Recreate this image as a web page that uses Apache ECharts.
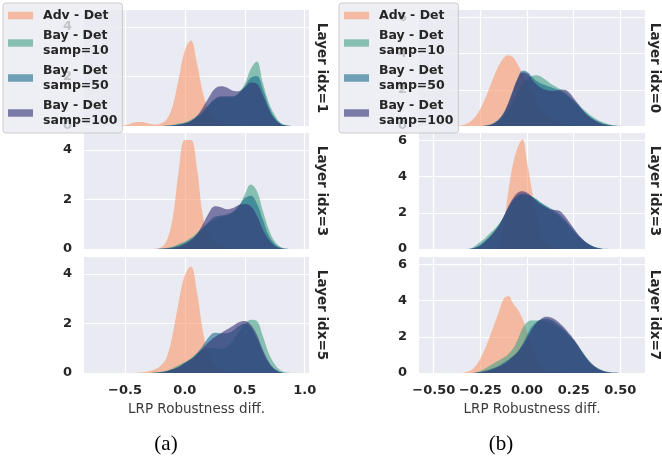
<!DOCTYPE html>
<html>
<head>
<meta charset="utf-8">
<script src="https://cdn.jsdelivr.net/npm/echarts@6/dist/echarts.min.js"></script>
<style>
html,body{margin:0;padding:0;background:#fff;}
#chart{width:662px;height:459px;}
</style>
</head>
<body>
<div id="chart"></div>
<script>
// ---------- DATA ----------
const seriesNames = ['Adv - Det', 'Bay - Det\nsamp=10', 'Bay - Det\nsamp=50', 'Bay - Det\nsamp=100'];
const layerLabelsA = ['Layer idx=1', 'Layer idx=3', 'Layer idx=5'];
const layerLabelsB = ['Layer idx=0', 'Layer idx=3', 'Layer idx=7'];
const captions = ['(a)', '(b)'];
const xAxisTitle = 'LRP Robustness diff.';
const xTicksA = [-0.5, 0, 0.5, 1.0];
const xTicksB = [-0.5, -0.25, 0, 0.25, 0.5];
const yTicksA = [0, 2, 4];
const yTicksB = [0, 2, 4, 6];

// KDE evaluation grid, panel (a)
const xA = [-0.55,-0.5,-0.45,-0.4,-0.35,-0.3,-0.25,-0.2,-0.15,-0.1,-0.05,0,0.05,0.1,0.15,0.2,0.25,0.3,0.35,0.4,0.45,0.5,0.55,0.6,0.65,0.7,0.75,0.8,0.85,0.9];
// KDE evaluation grid, panel (b)
const xB = [-0.45,-0.425,-0.4,-0.375,-0.35,-0.325,-0.3,-0.275,-0.25,-0.225,-0.2,-0.175,-0.15,-0.125,-0.1,-0.075,-0.05,-0.025,0,0.025,0.05,0.075,0.1,0.125,0.15,0.175,0.2,0.225,0.25,0.275,0.3,0.325,0.35,0.375,0.4,0.425,0.45,0.475,0.5,0.525,0.55,0.575,0.6];

// (a) Layer idx=1
const a1_adv  = [0,0.03,0.1,0.16,0.15,0.09,0.06,0.1,0.28,0.85,1.95,3.05,3.45,2.55,1.35,0.6,0.3,0.15,0.07,0.03,0,0,0,0,0,0,0,0,0,0];
const a1_s10  = [0,0,0,0,0,0,0,0,0.02,0.05,0.1,0.15,0.25,0.4,0.6,0.85,1.05,1.15,1.15,1.15,1.35,1.7,2.3,2.6,1.75,0.95,0.45,0.12,0.03,0];
const a1_s50  = [0,0,0,0,0,0,0,0,0.01,0.03,0.07,0.12,0.2,0.35,0.55,0.85,1.1,1.2,1.2,1.2,1.3,1.6,1.95,2.02,1.5,0.8,0.33,0.1,0.02,0];
const a1_s100 = [0,0,0,0,0,0,0,0,0.01,0.02,0.05,0.1,0.2,0.4,0.75,1.15,1.5,1.6,1.55,1.42,1.4,1.55,1.75,1.7,1.25,0.7,0.28,0.07,0.01,0];
// (a) Layer idx=3
const a2_adv  = [0,0,0,0,0,0,0.01,0.06,0.35,1.3,3.2,4.4,4.4,3.3,1.35,0.55,0.3,0.15,0.05,0.01,0,0,0,0,0,0,0,0,0,0];
const a2_s10  = [0,0,0,0,0,0,0,0.02,0.05,0.1,0.2,0.3,0.45,0.65,0.85,1.05,1.2,1.3,1.35,1.45,1.7,2.2,2.6,2.35,1.55,0.8,0.3,0.08,0.01,0];
const a2_s50  = [0,0,0,0,0,0,0,0.01,0.03,0.07,0.15,0.25,0.4,0.6,0.85,1.1,1.3,1.35,1.4,1.5,1.75,2.05,2.15,1.85,1.2,0.55,0.2,0.05,0.01,0];
const a2_s100 = [0,0,0,0,0,0,0,0.01,0.02,0.05,0.1,0.2,0.35,0.6,1.0,1.45,1.72,1.68,1.6,1.65,1.78,1.82,1.72,1.35,0.8,0.38,0.13,0.03,0,0];
// (a) Layer idx=5
const a3_adv  = [0,0,0,0.01,0.03,0.07,0.15,0.3,0.65,1.6,2.9,3.95,4.3,3.3,1.7,0.7,0.35,0.15,0.05,0.01,0,0,0,0,0,0,0,0,0,0];
const a3_s10  = [0,0,0,0,0,0,0.02,0.05,0.1,0.2,0.32,0.45,0.6,0.8,0.95,1.0,1.0,0.98,1.05,1.3,1.65,1.95,2.15,2.1,1.5,0.8,0.35,0.1,0.02,0];
const a3_s50  = [0,0,0,0,0,0,0.01,0.03,0.07,0.15,0.25,0.4,0.55,0.8,1.1,1.45,1.62,1.6,1.6,1.7,1.9,2.0,1.85,1.4,0.85,0.4,0.15,0.03,0,0];
const a3_s100 = [0,0,0,0,0,0,0.01,0.03,0.07,0.15,0.25,0.4,0.55,0.75,1.0,1.25,1.45,1.6,1.75,1.9,2.05,2.1,1.95,1.55,0.95,0.45,0.15,0.03,0,0];

// (b) Layer idx=0
const b1_adv  = [0,0,0,0.01,0.04,0.12,0.28,0.55,0.95,1.5,2.15,2.8,3.35,3.75,3.9,3.78,3.4,2.9,2.4,1.9,1.4,1.0,0.7,0.45,0.3,0.18,0.1,0.05,0.03,0.01,0,0,0,0,0,0,0,0,0,0,0,0,0];
const b1_s10  = [0,0,0,0,0,0,0,0,0,0.02,0.06,0.15,0.3,0.55,0.9,1.35,1.85,2.3,2.6,2.75,2.8,2.72,2.55,2.35,2.2,2.05,1.9,1.7,1.45,1.2,0.95,0.72,0.52,0.36,0.24,0.14,0.07,0.03,0.01,0,0,0,0];
const b1_s50  = [0,0,0,0,0,0,0,0,0,0.02,0.08,0.2,0.4,0.75,1.3,2.0,2.65,3.05,3.0,2.75,2.5,2.35,2.25,2.15,2.05,1.95,1.8,1.6,1.35,1.1,0.85,0.62,0.43,0.28,0.17,0.09,0.04,0.01,0,0,0,0,0];
const b1_s100 = [0,0,0,0,0,0,0,0,0,0.01,0.05,0.15,0.35,0.7,1.25,1.95,2.6,2.95,2.9,2.6,2.3,2.1,2.0,1.95,1.95,2.0,2.0,1.85,1.55,1.2,0.85,0.58,0.38,0.23,0.13,0.06,0.02,0,0,0,0,0,0];
// (b) Layer idx=3
const b2_adv  = [0,0,0,0,0,0,0,0,0,0,0.02,0.08,0.35,1.4,3.2,4.7,5.6,6.05,4.8,3.3,1.8,0.85,0.38,0.16,0.06,0.02,0,0,0,0,0,0,0,0,0,0,0,0,0,0,0,0,0];
const b2_s10  = [0,0,0,0,0,0,0.05,0.2,0.4,0.6,0.85,1.1,1.4,1.8,2.25,2.65,2.9,3.0,3.0,2.9,2.75,2.55,2.35,2.15,1.95,1.75,1.5,1.22,0.95,0.7,0.48,0.3,0.17,0.08,0.03,0.01,0,0,0,0,0,0,0];
const b2_s50  = [0,0,0,0,0,0,0.02,0.1,0.25,0.45,0.7,1.0,1.35,1.8,2.3,2.7,2.95,3.05,3.0,2.9,2.75,2.55,2.4,2.25,2.1,1.9,1.65,1.35,1.05,0.75,0.5,0.3,0.16,0.07,0.02,0,0,0,0,0,0,0,0];
const b2_s100 = [0,0,0,0,0,0,0.02,0.08,0.2,0.4,0.65,0.95,1.3,1.8,2.35,2.8,3.1,3.18,3.1,2.9,2.65,2.45,2.3,2.2,2.15,2.1,1.85,1.5,1.15,0.8,0.52,0.3,0.15,0.06,0.02,0,0,0,0,0,0,0,0];
// (b) Layer idx=7
const b3_adv  = [0,0,0,0,0,0.05,0.15,0.4,0.8,1.35,2.0,2.7,3.4,4.1,4.25,3.85,3.5,3.0,2.3,1.5,0.85,0.45,0.22,0.1,0.04,0.01,0,0,0,0,0,0,0,0,0,0,0,0,0,0,0,0,0];
const b3_s10  = [0,0,0,0,0,0,0,0.04,0.12,0.25,0.4,0.55,0.7,0.85,1.05,1.35,1.85,2.45,2.8,2.9,2.9,2.9,2.88,2.8,2.65,2.48,2.28,2.05,1.8,1.48,1.12,0.78,0.5,0.3,0.17,0.08,0.03,0.01,0,0,0,0,0];
const b3_s50  = [0,0,0,0,0,0,0,0.02,0.06,0.12,0.2,0.3,0.42,0.58,0.75,0.95,1.2,1.6,2.1,2.55,2.82,2.95,3.0,2.95,2.82,2.62,2.38,2.1,1.82,1.45,1.05,0.7,0.43,0.25,0.13,0.06,0.02,0.01,0,0,0,0,0];
const b3_s100 = [0,0,0,0,0,0,0,0.01,0.04,0.09,0.16,0.25,0.36,0.5,0.68,0.9,1.15,1.5,1.95,2.4,2.75,2.98,3.1,3.08,2.95,2.75,2.5,2.2,1.88,1.5,1.1,0.75,0.47,0.28,0.15,0.07,0.03,0.01,0,0,0,0,0];

// ---------- STYLE / LAYOUT ----------
const fills = ['rgba(250,152,107,0.6)', 'rgba(67,162,134,0.6)', 'rgba(24,109,140,0.6)', 'rgba(49,47,115,0.6)'];
const FONT = 'DejaVu Sans';
const rowTops = [10, 133, 257];
const rowH = 116;
const cols = [
  { left: 84, width: 225, xmin: -0.842, xmax: 1.036, ymax: 4.68, xTicks: xTicksA, yTicks: yTicksA, dec: 1, xs: xA,
    panels: [[a1_adv,a1_s10,a1_s50,a1_s100],[a2_adv,a2_s10,a2_s50,a2_s100],[a3_adv,a3_s10,a3_s50,a3_s100]],
    labels: layerLabelsA, labelX: 321, caption: captions[0], capX: 166 },
  { left: 419, width: 226, xmin: -0.579, xmax: 0.632, ymax: 6.4, xTicks: xTicksB, yTicks: yTicksB, dec: 2, xs: xB,
    panels: [[b1_adv,b1_s10,b1_s50,b1_s100],[b2_adv,b2_s10,b2_s50,b2_s100],[b3_adv,b3_s10,b3_s50,b3_s100]],
    labels: layerLabelsB, labelX: 654, caption: captions[1], capX: 501 }
];

const grid = [], xAxis = [], yAxis = [], series = [], graphic = [];
cols.forEach((c, ci) => {
  c.panels.forEach((panel, ri) => {
    const gi = ci * 3 + ri;
    grid.push({ left: c.left, top: rowTops[ri], width: c.width, height: rowH, show: true,
      backgroundColor: '#eaeaf2', borderWidth: 0 });
    const dec = c.dec;
    xAxis.push({
      type: 'value', gridIndex: gi, min: c.xmin, max: c.xmax,
      axisLine: { show: false },
      axisTick: { show: false, customValues: c.xTicks },
      axisLabel: { show: ri === 2, customValues: c.xTicks, margin: 11,
        fontFamily: FONT, fontWeight: 'bold', fontSize: 13, color: '#262626',
        formatter: v => v.toFixed(dec).replace('-', '\u2212') },
      splitLine: { show: true, lineStyle: { color: '#ffffff', width: 1.2 } },
      name: ri === 2 ? xAxisTitle : '', nameLocation: 'middle', nameGap: 29,
      nameTextStyle: { fontFamily: FONT, fontSize: 13.5, color: '#3a3a3a' }
    });
    yAxis.push({
      type: 'value', gridIndex: gi, min: 0, max: c.ymax,
      axisLine: { show: false },
      axisTick: { show: false, customValues: c.yTicks },
      axisLabel: { customValues: c.yTicks, margin: 12, fontFamily: FONT, fontWeight: 'bold',
        fontSize: 13, color: '#262626' },
      splitLine: { show: true, lineStyle: { color: '#ffffff', width: 1.2 } }
    });
    panel.forEach((ys, si) => {
      series.push({
        type: 'line', name: seriesNames[si], xAxisIndex: gi, yAxisIndex: gi,
        data: c.xs.map((xv, k) => [xv, ys[k]]),
        smooth: 0.4, symbol: 'none', showSymbol: false,
        lineStyle: { width: 0, color: fills[si] },
        itemStyle: { color: fills[si] },
        areaStyle: { color: fills[si], opacity: 1 },
        silent: true, animation: false
      });
    });
    graphic.push({
      type: 'text', x: c.labelX, y: rowTops[ri] + rowH / 2, rotation: -Math.PI / 2,
      style: { text: c.labels[ri], fontFamily: FONT, fontWeight: 'bold', fontSize: 13.5,
        fill: '#262626', align: 'center', verticalAlign: 'middle' }
    });
  });
  graphic.push({
    type: 'text', x: c.capX, y: 444,
    style: { text: c.caption, fontFamily: 'Liberation Serif', fontSize: 21, fill: '#000',
      align: 'center', verticalAlign: 'middle' }
  });
});

const legendBase = {
  orient: 'vertical', top: 3, data: seriesNames, icon: 'rect',
  itemWidth: 25, itemHeight: 7.5, itemGap: 5, padding: [5, 5, 5, 5],
  backgroundColor: 'rgba(234,234,242,0.8)', borderColor: '#cccccc', borderWidth: 1, borderRadius: 3,
  selectedMode: false,
  textStyle: { fontFamily: FONT, fontWeight: 'bold', fontSize: 12.5, color: '#262626',
    lineHeight: 15, padding: [0, 0, 0, 5] }
};

const chart = echarts.init(document.getElementById('chart'), null, { renderer: 'canvas' });
chart.setOption({
  animation: false,
  backgroundColor: '#ffffff',
  grid, xAxis, yAxis, series,
  legend: [Object.assign({ left: 3 }, legendBase), Object.assign({ left: 339 }, legendBase)],
  graphic
});
</script>
</body>
</html>
